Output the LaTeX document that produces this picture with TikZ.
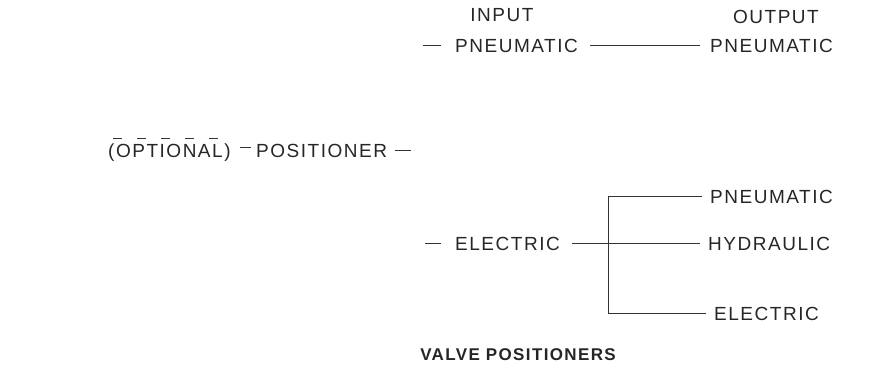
\documentclass[tikz,border=0pt]{standalone}
\usepackage{fontspec}
\setmainfont{Liberation Sans}[LetterSpace=8]
\begin{document}
\begin{tikzpicture}[x=1pt,y=-1pt,
  lbl/.style={inner sep=0pt,anchor=west,text=black!85,font=\fontsize{19}{21}\selectfont},
  ln/.style={draw=black!80,line width=1.1pt}]
\useasboundingbox (0,0) rectangle (871,390);
\node[lbl,anchor=center] (input) at (502,15) {INPUT};
\node[lbl,anchor=center] (output) at (776,17) {OUTPUT};
\node[lbl] (pin) at (455,45.5) {PNEUMATIC};
\node[lbl] (pout) at (710,45.5) {PNEUMATIC};
\node[lbl] (opt) at (108,153) {(OPTIONAL)};
\node[lbl] (pos) at (256,150.5) {POSITIONER};
\node[lbl] (ein) at (455,243.5) {ELECTRIC};
\node[lbl] (opn) at (710,196.5) {PNEUMATIC};
\node[lbl] (ohy) at (708,243.5) {HYDRAULIC};
\node[lbl] (oel) at (714,313.5) {ELECTRIC};
\node[lbl,anchor=center,font=\bfseries\fontsize{17}{19}\selectfont] (title) at (518,355) {VALVE POSITIONERS};
\coordinate (a1) at (423,45.5);
\draw[ln] (a1) -- ++(18,0);
\draw[ln] ([xshift=12pt]pin.east) -- ([xshift=-10pt]pout.west);
\coordinate (b1) at (240,147.5);
\draw[ln] (b1) -- ++(11,0);
\draw[ln] ([xshift=8pt]pos.east) -- ++(16,0);
\coordinate (c1) at (425,243.5);
\draw[ln] (c1) -- ++(16,0);
\coordinate (br) at (608.5,243.5);
\draw[ln] ([xshift=12pt]ein.east) -- (br) -- ([xshift=-8pt]ohy.west);
\draw[ln] ([xshift=-8pt]opn.west) -- (br |- opn.west) -- (br |- oel.west) -- ([xshift=-8pt]oel.west);
\draw[ln,dash pattern=on 9pt off 15pt,dash phase=-3pt]
  ([yshift=5pt,xshift=2pt]opt.north west) -- ([yshift=5pt]opt.north east);
\end{tikzpicture}
\end{document}
